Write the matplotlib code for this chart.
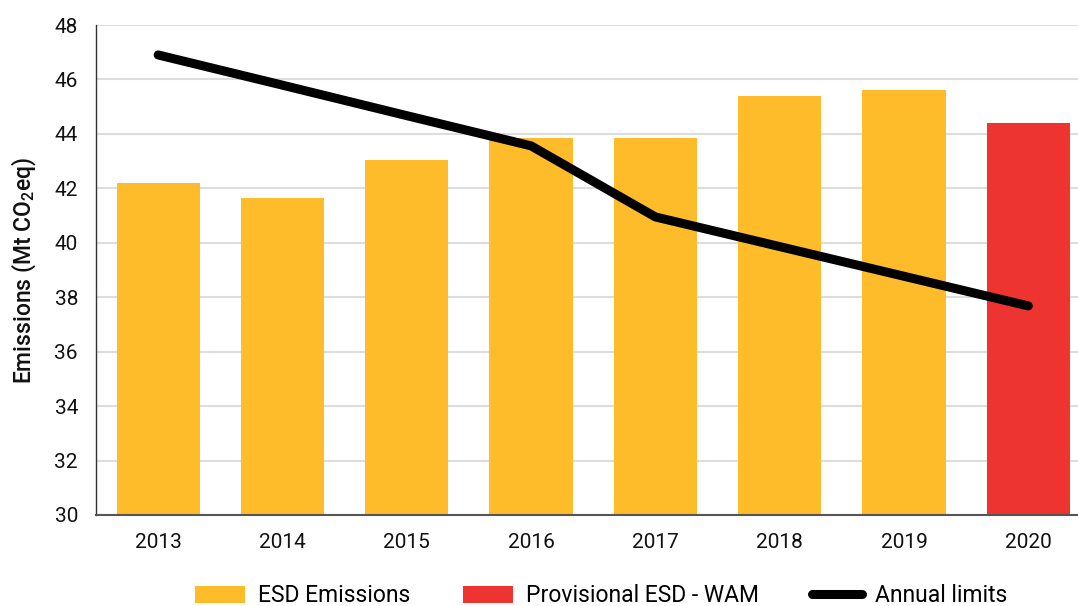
import matplotlib
matplotlib.use("Agg")
import matplotlib.pyplot as plt
from matplotlib.patches import Patch
from matplotlib.lines import Line2D

years = ["2013", "2014", "2015", "2016", "2017", "2018", "2019", "2020"]
esd_emissions = [42.2, 41.65, 43.05, 43.85, 43.85, 45.4, 45.6, None]
provisional_wam = [None, None, None, None, None, None, None, 44.4]
annual_limits = [46.9, 45.79, 44.67, 43.56, 40.95, 39.86, 38.77, 37.68]

plt.rcParams['font.family'] = ['Roboto', 'DejaVu Sans']
plt.rcParams['mathtext.default'] = 'regular'

YELLOW = '#FEBC2B'
RED = '#EE3431'

fig = plt.figure(figsize=(10.78, 6.06), dpi=100)
ax = fig.add_axes([96/1078, 1-515/606, 1-96/1078, (515-25)/606])

x = list(range(len(years)))
ex = [i for i, v in zip(x, esd_emissions) if v is not None]
ev = [v for v in esd_emissions if v is not None]
px = [i for i, v in zip(x, provisional_wam) if v is not None]
pv = [v for v in provisional_wam if v is not None]

w = 0.67
ax.bar(ex, [v - 30 for v in ev], bottom=30, width=w, color=YELLOW, zorder=2)
ax.bar(px, [v - 30 for v in pv], bottom=30, width=w, color=RED, zorder=2)
ax.plot(x, annual_limits, color='black', lw=6.5, solid_capstyle='round',
        solid_joinstyle='round', zorder=3)

ax.set_ylim(30, 48)
ax.set_xlim(-0.5, 7.4)
ax.set_yticks(range(30, 49, 2))
ax.set_xticks(x)
ax.set_xticklabels(years)
ax.tick_params(axis='both', length=0, labelsize=15, colors='#111111')
ax.tick_params(axis='y', pad=13)
ax.tick_params(axis='x', pad=13)
ax.yaxis.grid(True, color='#dddddd', lw=1.5, zorder=0)
ax.set_axisbelow(True)
for s in ['top', 'right']:
    ax.spines[s].set_visible(False)
ax.spines['left'].set_color('#333333')
ax.spines['bottom'].set_color('#555555')
ax.spines['left'].set_linewidth(1.0)
ax.spines['bottom'].set_linewidth(1.5)

ax.set_ylabel('Emissions (Mt CO$_2$eq)', fontsize=16.5, fontweight='medium',
              color='#111111', labelpad=12)

handles = [Patch(facecolor=YELLOW), Patch(facecolor=RED),
           Line2D([0], [0], color='black', lw=6.5, solid_capstyle='round')]
labels = ['ESD Emissions', 'Provisional ESD - WAM', 'Annual limits']
fig.legend(handles, labels, loc='center', bbox_to_anchor=(601/1078, 1-596/606),
           ncol=3, frameon=False, fontsize=16.5, handlelength=2.2,
           handleheight=0.8, columnspacing=2.3, handletextpad=0.55)

fig.savefig('out.png', dpi=100)
